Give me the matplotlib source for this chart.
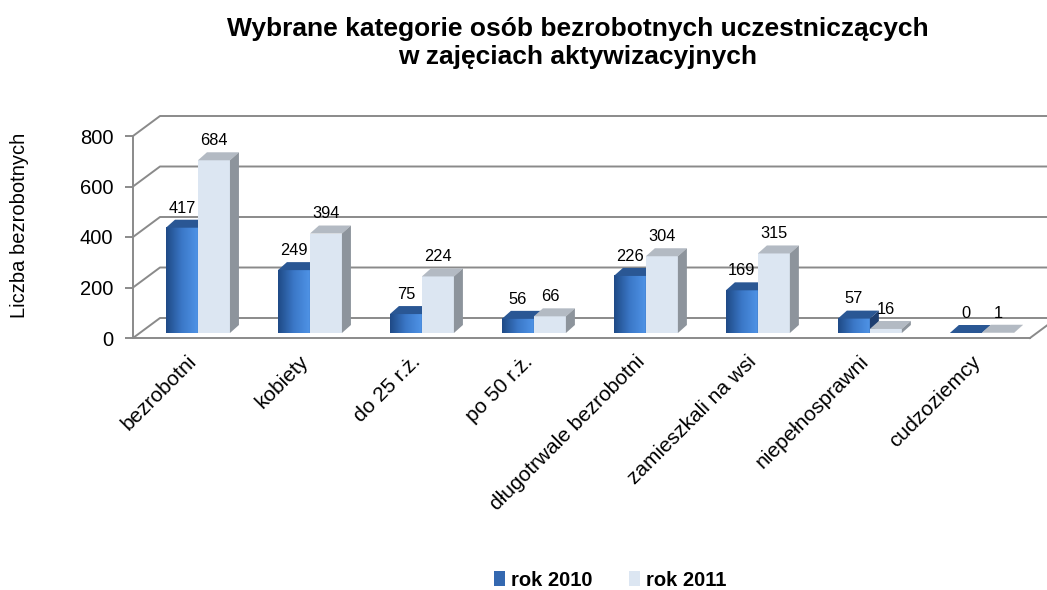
import numpy as np
import matplotlib
matplotlib.use("Agg")
import matplotlib.pyplot as plt
from matplotlib.patches import Polygon, Patch
from matplotlib.colors import LinearSegmentedColormap

plt.rcParams["font.family"] = ["Liberation Sans", "DejaVu Sans"]

categories = ["bezrobotni", "kobiety", "do 25 r.ż.", "po 50 r.ż.",
              "długotrwale bezrobotni", "zamieszkali na wsi", "niepełnosprawni", "cudzoziemcy"]
rok_2010 = [417, 249, 75, 56, 226, 169, 57, 0]
rok_2011 = [684, 394, 224, 66, 304, 315, 16, 1]
series_labels = ["rok 2010", "rok 2011"]
yticks = [0, 200, 400, 600, 800]
title = "Wybrane kategorie osób bezrobotnych uczestniczących\nw zajęciach aktywizacyjnych"
ylabel = "Liczba bezrobotnych"

GRID = "#8a8a8a"
blue_cmap = LinearSegmentedColormap.from_list("b", ["#1f4a86", "#3b78c8", "#4f93e6"])
face = {  # front, top, side
    0: (None, "#2a5794", "#1d3e70"),
    1: ("#dce6f2", "#b3bac3", "#8d949c"),
}

W, H = 1047, 590
fig = plt.figure(figsize=(W / 100, H / 100), dpi=100)
ax = fig.add_axes([133 / W, 252 / H, 897 / W, 202 / H])
xl, xr = -0.58, 7.43
ax.set_xlim(xl, xr); ax.set_ylim(0, 800)

# pixel -> data scale factors for fake 3d depth
PX, PY = 112, 202 / 800
WDX, WDY = 27 / PX, 20 / PY        # wall depth
BASE = 5 / PY                       # bars sit a little behind the front edge
BW = 32 / PX                        # bar width
DDX, DDY = 9 / PX, 8 / PY           # bar depth

# walls / floor
for v in yticks:
    ax.plot([xl, xl + WDX, xr + WDX], [v, v + WDY, v + WDY], color=GRID, lw=1.4,
            clip_on=False, zorder=1, solid_capstyle="butt")
ax.plot([xr, xr + WDX], [0, WDY], color=GRID, lw=1.4, clip_on=False, zorder=1)

grad = np.linspace(0, 1, 64).reshape(1, -1)
x = np.arange(len(categories))
for i in x:
    for s, vals in enumerate([rok_2010, rok_2011]):
        v = vals[i]
        x0 = i - BW + s * BW
        x1 = x0 + BW
        top = BASE + v
        fc, tc, sc = face[s]
        z = 3 + s
        if v > 0:
            if fc is None:
                ax.imshow(grad, extent=[x0, x1, BASE, top], cmap=blue_cmap, aspect="auto",
                          origin="lower", zorder=z, interpolation="bilinear")
            else:
                ax.add_patch(Polygon([(x0, BASE), (x1, BASE), (x1, top), (x0, top)],
                                     closed=True, fc=fc, ec="none", zorder=z))
        ax.add_patch(Polygon([(x0, top), (x1, top), (x1 + DDX, top + DDY), (x0 + DDX, top + DDY)],
                             closed=True, fc=tc, ec="none", zorder=z))
        ax.add_patch(Polygon([(x1, BASE), (x1, top), (x1 + DDX, top + DDY), (x1 + DDX, BASE + DDY)],
                             closed=True, fc=sc, ec="none", zorder=z))
        ax.annotate(str(v), ((x0 + x1) / 2, top + DDY), xytext=(0, 3), textcoords="offset points",
                    ha="center", va="bottom", fontsize=11.8, zorder=6)

ax.set_xlim(xl, xr); ax.set_ylim(0, 800)
ax.set_aspect("auto")

for sp in ["top", "right"]:
    ax.spines[sp].set_visible(False)
for sp in ["left", "bottom"]:
    ax.spines[sp].set_color(GRID); ax.spines[sp].set_linewidth(1.4)
ax.set_yticks(yticks)
ax.tick_params(axis="y", length=5.8, width=1.4, color=GRID, labelsize=14.5, pad=8.5)
ax.set_xticks(x - 0.1)
ax.set_xticklabels(categories, rotation=45, ha="right", va="top", rotation_mode="anchor", fontsize=15)
ax.tick_params(axis="x", length=0, pad=10)

fig.text(20 / W, 1 - 225 / H, ylabel, rotation=90, ha="center", va="center", fontsize=14.5)
fig.text(578 / W, 1 - 43 / H, title, ha="center", va="center", fontsize=19, fontweight="bold",
         linespacing=1.22)

handles = [Patch(fc="#3468b0"), Patch(fc="#dce6f2")]
fig.legend(handles, series_labels, loc="center", bbox_to_anchor=(610 / W, 1 - 580 / H), ncol=2,
           frameon=False, prop={"weight": "bold", "size": 14.5}, handlelength=0.55, handleheight=0.75,
           handletextpad=0.3, columnspacing=1.8)

fig.savefig("out.png", dpi=100)
